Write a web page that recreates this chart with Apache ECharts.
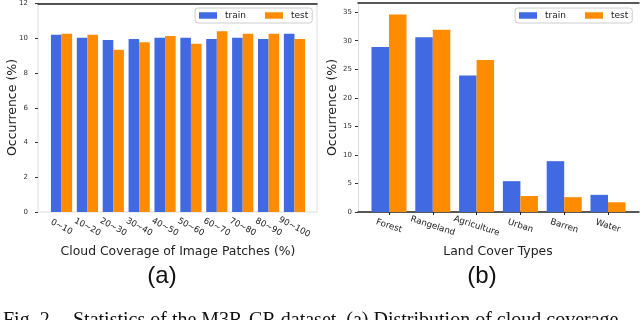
<!DOCTYPE html>
<html>
<head>
<meta charset="utf-8">
<script src="https://cdn.jsdelivr.net/npm/echarts@6.0.0/dist/echarts.min.js"></script>
<style>
  html, body { margin: 0; padding: 0; background: #fff; }
  #main { width: 640px; height: 320px; }
</style>
</head>
<body>
<div id="main"></div>
<script>
// (a) cloud coverage bins
var cloudBins = ["0~10", "10~20", "20~30", "30~40", "40~50", "50~60", "60~70", "70~80", "80~90", "90~100"];
var cloudTrain = [10.17, 10.0, 9.88, 9.94, 10.0, 10.0, 9.94, 10.0, 9.94, 10.23];
var cloudTest = [10.23, 10.17, 9.31, 9.75, 10.11, 9.66, 10.38, 10.23, 10.23, 9.94];
var cloudTicks = [0, 2, 4, 6, 8, 10, 12];

// (b) land cover types
var landTypes = ["Forest", "Rangeland", "Agriculture", "Urban", "Barren", "Water"];
var landTrain = [28.9, 30.6, 23.9, 5.4, 8.9, 3.0];
var landTest = [34.6, 31.9, 26.6, 2.8, 2.6, 1.7];
var landTicks = [0, 5, 10, 15, 20, 25, 30, 35];

var BLUE = "#4169e1";
var ORANGE = "#ff8c00";
var FONT = "DejaVu Sans";

var myChart = echarts.init(document.getElementById("main"), null, { renderer: "canvas" });

function spine(gridIndex, pos) {
  return {
    gridIndex: gridIndex, type: "value", position: pos, min: 0, max: 1,
    axisLine: { show: true, onZero: false, lineStyle: { color: "#222", width: 1.5 } },
    axisTick: { show: false }, axisLabel: { show: false }, splitLine: { show: false }
  };
}

function legendBox(left) {
  return {
    left: left, top: 8,
    orient: "horizontal",
    padding: [3, 4, 3, 4],
    itemWidth: 18, itemHeight: 6.5, itemGap: 19,
    borderColor: "#cccccc", borderWidth: 1, borderRadius: 3,
    backgroundColor: "#fff",
    icon: "rect",
    data: ["train", "test"],
    textStyle: { fontFamily: FONT, fontSize: 9, color: "#222", padding: [0, 0, 0, 3] }
  };
}

var option = {
  animation: false,
  backgroundColor: "#fff",
  color: [BLUE, ORANGE],
  legend: [legendBox(195), legendBox(515)],
  grid: [
    { left: 38, right: 323, top: 3, bottom: 108, show: true, borderColor: "#dddddd", borderWidth: 1, backgroundColor: "transparent" },
    { left: 48.6, right: 332.6, top: 3, bottom: 108 },
    { left: 358, right: 1, top: 3, bottom: 108 },
    { left: 367.1, right: 10.1, top: 3, bottom: 108 }
  ],
  xAxis: [
    spine(0, "top"),
    {
      gridIndex: 1, type: "category", data: cloudBins,
      axisLine: { show: false }, axisTick: { show: false },
      axisLabel: { rotate: -28, align: "center", verticalAlign: "middle", margin: 15, fontFamily: FONT, fontSize: 8.5, color: "#222" }
    },
    spine(2, "top"),
    spine(2, "bottom"),
    {
      gridIndex: 3, type: "category", data: landTypes,
      axisLine: { show: false },
      axisTick: { show: true, alignWithLabel: true, length: 3, lineStyle: { color: "#222" } },
      axisLabel: { rotate: -18, align: "center", verticalAlign: "middle", margin: 14, fontFamily: FONT, fontSize: 8.7, color: "#222" }
    }
  ],
  yAxis: [
    {
      gridIndex: 0, type: "value", min: 0, max: 12,
      axisLine: { show: false },
      axisTick: { show: true, length: 3, customValues: cloudTicks, lineStyle: { color: "#333" } },
      axisLabel: { margin: 10, customValues: cloudTicks, fontFamily: FONT, fontSize: 7, color: "#333" },
      splitLine: { show: false }
    },
    { gridIndex: 1, type: "value", min: 0, max: 12, show: false, splitLine: { show: false } },
    {
      gridIndex: 2, type: "value", min: 0, max: 36.6,
      axisLine: { show: true, onZero: false, lineStyle: { color: "#dddddd", width: 1 } },
      axisTick: { show: true, length: 3, customValues: landTicks, lineStyle: { color: "#333" } },
      axisLabel: { margin: 6, customValues: landTicks, fontFamily: FONT, fontSize: 7, color: "#333" },
      splitLine: { show: false }
    },
    { gridIndex: 3, type: "value", min: 0, max: 36.6, show: false, splitLine: { show: false } }
  ],
  series: [
    { name: "train", type: "bar", xAxisIndex: 1, yAxisIndex: 1, data: cloudTrain, barWidth: 10.6, barGap: "0%", itemStyle: { color: BLUE } },
    { name: "test", type: "bar", xAxisIndex: 1, yAxisIndex: 1, data: cloudTest, barWidth: 10.6, barGap: "0%", itemStyle: { color: ORANGE } },
    { name: "train", type: "bar", xAxisIndex: 4, yAxisIndex: 3, data: landTrain, barWidth: 17.5, barGap: "0%", itemStyle: { color: BLUE } },
    { name: "test", type: "bar", xAxisIndex: 4, yAxisIndex: 3, data: landTest, barWidth: 17.5, barGap: "0%", itemStyle: { color: ORANGE } }
  ],
  graphic: [
    { type: "text", x: 13, y: 107.5, rotation: Math.PI / 2, style: { text: "Occurrence (%)", fontFamily: FONT, fontSize: 12.5, fill: "#222", align: "center", verticalAlign: "middle" } },
    { type: "text", x: 332.5, y: 107.5, rotation: Math.PI / 2, style: { text: "Occurrence (%)", fontFamily: FONT, fontSize: 12.5, fill: "#222", align: "center", verticalAlign: "middle" } },
    { type: "text", x: 178, y: 252, style: { text: "Cloud Coverage of Image Patches (%)", fontFamily: FONT, fontSize: 12.4, fill: "#222", align: "center", verticalAlign: "middle" } },
    { type: "text", x: 498, y: 252, style: { text: "Land Cover Types", fontFamily: FONT, fontSize: 12.4, fill: "#222", align: "center", verticalAlign: "middle" } },
    { type: "text", x: 162, y: 276, style: { text: "(a)", fontFamily: "Liberation Sans", fontSize: 24, fill: "#111", align: "center", verticalAlign: "middle" } },
    { type: "text", x: 482, y: 276, style: { text: "(b)", fontFamily: "Liberation Sans", fontSize: 24, fill: "#111", align: "center", verticalAlign: "middle" } },
    { type: "text", x: 3, y: 311, style: { text: "Fig. 2.", fontFamily: "Liberation Serif", fontSize: 20, fill: "#111", align: "left", verticalAlign: "top" } },
    { type: "text", x: 73, y: 311, style: { text: "Statistics of the M3R-CR dataset. (a) Distribution of cloud coverage", fontFamily: "Liberation Serif", fontSize: 20, fill: "#111", align: "left", verticalAlign: "top" } }
  ]
};

myChart.setOption(option);
window.addEventListener("resize", myChart.resize);
</script>
</body>
</html>
